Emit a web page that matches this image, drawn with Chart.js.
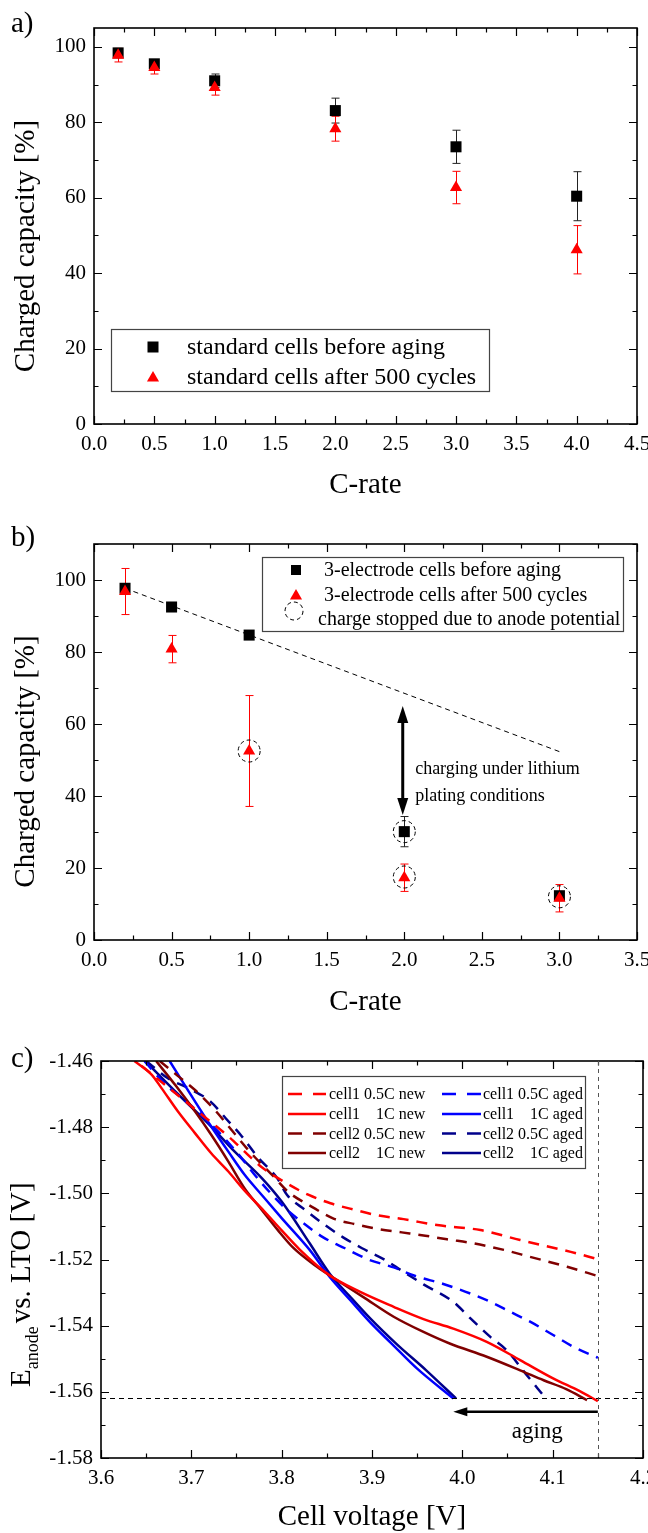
<!DOCTYPE html>
<html>
<head>
<meta charset="utf-8">
<title>Charged capacity and anode potential</title>
<script src="https://cdn.jsdelivr.net/npm/chart.js@4.4.1/dist/chart.umd.min.js"></script>
<style>
  body { margin: 0; background: #fff; }
  canvas { position: absolute; left: 0; }
</style>
</head>
<body>
<canvas id="chartA" width="648" height="510" style="top:0"></canvas>
<canvas id="chartB" width="648" height="510" style="top:510px"></canvas>
<canvas id="chartC" width="648" height="513" style="top:1020px"></canvas>
<script>
const SERIF = '"Liberation Serif", "Times New Roman", serif';

// a) standard cells
const rateA = [0.2, 0.5, 1.0, 2.0, 3.0, 4.0];
const beforeA = [98.4, 95.5, 91.0, 83.1, 73.5, 60.4];
const beforeErrA = [0.8, 0.9, 1.8, 3.3, 4.4, 6.5];
const afterA = [97.8, 94.5, 89.2, 78.3, 62.7, 46.2];
const afterErrA = [1.8, 1.7, 2.0, 3.3, 4.3, 6.4];

// b) 3-electrode cells
const rateB = [0.2, 0.5, 1.0, 2.0, 3.0];
const beforeB = [97.7, 92.5, 84.7, 30.1, 12.3];
const beforeErrB = [0, 0, 0, 4.2, 0];
const afterB = [96.8, 80.8, 52.5, 17.3, 11.6];
const afterErrB = [6.4, 3.8, 15.4, 3.8, 3.8];
const trendX = [0.2, 3.02];
const trendY = [97.7, 52.0];
const stopX = [1.0, 2.0, 2.0, 3.0];
const stopY = [52.5, 30.1, 17.5, 12.0];
const platingX = 1.99;
const platingY = [65.0, 34.7];
const noteX = 2.07;
const noteY = [47.3, 39.9];

// c) anode potential vs cell voltage
const c1HalfNewV = [3.645, 3.670, 3.698, 3.721, 3.741, 3.759, 3.778, 3.805, 3.830, 3.854, 3.881, 3.907, 3.935, 3.972, 4.020, 4.064, 4.120, 4.150];
const c1HalfNewE = [-1.4615, -1.4670, -1.4732, -1.4783, -1.4828, -1.4874, -1.4921, -1.4969, -1.5005, -1.5030, -1.5050, -1.5067, -1.5078, -1.5096, -1.5111, -1.5141, -1.5177, -1.5199];
const c1FullNewV = [3.637, 3.656, 3.667, 3.685, 3.704, 3.722, 3.741, 3.759, 3.780, 3.800, 3.820, 3.853, 3.887, 3.924, 3.957, 3.990, 4.027, 4.064, 4.101, 4.130, 4.150];
const c1FullNewE = [-1.4600, -1.4641, -1.4682, -1.4752, -1.4818, -1.4879, -1.4934, -1.4992, -1.5052, -1.5112, -1.5170, -1.5248, -1.5298, -1.5343, -1.5380, -1.5409, -1.5449, -1.5504, -1.5560, -1.5598, -1.5628];
const c2HalfNewV = [3.665, 3.685, 3.705, 3.725, 3.745, 3.765, 3.791, 3.807, 3.833, 3.858, 3.881, 3.907, 3.933, 3.959, 3.983, 4.012, 4.046, 4.075, 4.116, 4.150];
const c2HalfNewE = [-1.4600, -1.4645, -1.4690, -1.4745, -1.4810, -1.4875, -1.4949, -1.4995, -1.5040, -1.5077, -1.5093, -1.5108, -1.5118, -1.5128, -1.5139, -1.5151, -1.5171, -1.5192, -1.5222, -1.5250];
const c2FullNewV = [3.661, 3.682, 3.704, 3.722, 3.741, 3.759, 3.778, 3.796, 3.813, 3.839, 3.861, 3.890, 3.924, 3.957, 3.986, 4.027, 4.064, 4.090, 4.115, 4.138];
const c2FullNewE = [-1.4600, -1.4672, -1.4752, -1.4823, -1.4904, -1.4985, -1.5050, -1.5112, -1.5165, -1.5222, -1.5262, -1.5313, -1.5373, -1.5419, -1.5454, -1.5494, -1.5535, -1.5565, -1.5592, -1.5625];
const c1HalfAgedV = [3.648, 3.671, 3.700, 3.725, 3.750, 3.775, 3.802, 3.822, 3.846, 3.870, 3.896, 3.924, 3.948, 3.979, 4.009, 4.031, 4.053, 4.075, 4.101, 4.123, 4.150];
const c1HalfAgedE = [-1.4600, -1.4670, -1.4735, -1.4800, -1.4875, -1.4960, -1.5040, -1.5086, -1.5133, -1.5166, -1.5200, -1.5224, -1.5250, -1.5274, -1.5303, -1.5328, -1.5358, -1.5388, -1.5429, -1.5464, -1.5497];
const c1FullAgedV = [3.676, 3.689, 3.704, 3.722, 3.741, 3.759, 3.778, 3.800, 3.831, 3.853, 3.876, 3.898, 3.922, 3.950, 3.990];
const c1FullAgedE = [-1.4600, -1.4657, -1.4722, -1.4798, -1.4874, -1.4944, -1.5005, -1.5075, -1.5171, -1.5252, -1.5323, -1.5390, -1.5455, -1.5530, -1.5620];
const c2HalfAgedV = [3.650, 3.674, 3.698, 3.721, 3.738, 3.756, 3.774, 3.795, 3.806, 3.826, 3.848, 3.868, 3.889, 3.915, 3.933, 3.957, 3.990, 4.009, 4.031, 4.049, 4.070, 4.090];
const c2HalfAgedE = [-1.4600, -1.4652, -1.4684, -1.4722, -1.4773, -1.4828, -1.4892, -1.4954, -1.5005, -1.5050, -1.5096, -1.5133, -1.5166, -1.5202, -1.5234, -1.5275, -1.5328, -1.5378, -1.5434, -1.5474, -1.5545, -1.5612];
const c2FullAgedV = [3.649, 3.686, 3.722, 3.748, 3.778, 3.800, 3.831, 3.853, 3.876, 3.898, 3.927, 3.960, 3.993];
const c2FullAgedE = [-1.4600, -1.4702, -1.4798, -1.4874, -1.4954, -1.5025, -1.5151, -1.5242, -1.5313, -1.5378, -1.5455, -1.5535, -1.5620];
const limitE = -1.562;
const cutoffV = 4.15;
const agingV = [4.15, 3.99];
const agingE = -1.566;
const agingLabel = [4.083, -1.572];

const RED = '#ff0000', DARKRED = '#800000', BLUE = '#0000ff', NAVY = '#00008b';

Chart.defaults.font.family = SERIF;
Chart.defaults.color = '#000';

const pts = (xs, ys) => xs.map((x, i) => ({ x, y: ys[i] }));

function text(ctx, str, x, y, size, align = 'left', baseline = 'alphabetic') {
    ctx.font = `${size}px ${SERIF}`;
    ctx.textAlign = align;
    ctx.textBaseline = baseline;
    ctx.fillStyle = '#000';
    ctx.fillText(str, x, y);
}

function vtext(ctx, str, x, y, size, align = 'center') {
    ctx.save();
    ctx.translate(x, y);
    ctx.rotate(-Math.PI / 2);
    text(ctx, str, 0, 0, size, align);
    ctx.restore();
}

function square(ctx, x, y, side, color) {
    ctx.fillStyle = color;
    ctx.fillRect(x - side / 2, y - side / 2, side, side);
}

function triangle(ctx, x, y, r, color) {
    ctx.fillStyle = color;
    ctx.beginPath();
    ctx.moveTo(x, y - r);
    ctx.lineTo(x + r * 0.866, y + r / 2);
    ctx.lineTo(x - r * 0.866, y + r / 2);
    ctx.closePath();
    ctx.fill();
}

function dashedCircle(ctx, x, y, r) {
    ctx.save();
    ctx.strokeStyle = '#000';
    ctx.lineWidth = 1;
    ctx.setLineDash([4, 3]);
    ctx.beginPath();
    ctx.arc(x, y, r, 0, Math.PI * 2);
    ctx.stroke();
    ctx.restore();
}

function arrowHead(ctx, x, y, dx, dy, len, half) {
    // tip at (x, y), pointing along (dx, dy)
    const bx = x - dx * len, by = y - dy * len;
    ctx.beginPath();
    ctx.moveTo(x, y);
    ctx.lineTo(bx - dy * half, by + dx * half);
    ctx.lineTo(bx + dy * half, by - dx * half);
    ctx.closePath();
    ctx.fill();
}

// frame with inward ticks on all four sides
function frame(xStep, yStep) {
    return {
        id: 'frame',
        afterDraw(chart) {
            const { ctx, chartArea: a, scales } = chart;
            ctx.save();
            ctx.strokeStyle = '#000';
            ctx.lineWidth = 1.2;
            const marks = (scale, step, horizontal) => {
                const half = step / 2;
                const start = Math.ceil(scale.min / half - 1e-6);
                const end = Math.floor(scale.max / half + 1e-6);
                for (let i = start; i <= end; i++) {
                    const len = i % 2 === 0 ? 8 : 4.5;
                    const p = Math.round(scale.getPixelForValue(i * half)) + 0.5;
                    ctx.beginPath();
                    if (horizontal) {
                        ctx.moveTo(p, a.bottom); ctx.lineTo(p, a.bottom - len);
                        ctx.moveTo(p, a.top); ctx.lineTo(p, a.top + len);
                    } else {
                        ctx.moveTo(a.left, p); ctx.lineTo(a.left + len, p);
                        ctx.moveTo(a.right, p); ctx.lineTo(a.right - len, p);
                    }
                    ctx.stroke();
                }
            };
            marks(scales.x, xStep, true);
            marks(scales.y, yStep, false);
            ctx.lineWidth = 1.6;
            ctx.strokeRect(a.left, a.top, a.right - a.left, a.bottom - a.top);
            ctx.restore();
        }
    };
}

function errorBars(sets) {
    return {
        id: 'errorBars',
        beforeDatasetsDraw(chart) {
            const { ctx, scales: { x, y } } = chart;
            ctx.save();
            ctx.lineWidth = 1;
            sets.forEach(s => {
                ctx.strokeStyle = s.color;
                s.x.forEach((xv, i) => {
                    if (!s.err[i]) return;
                    const px = Math.round(x.getPixelForValue(xv)) + 0.5;
                    const top = y.getPixelForValue(s.y[i] + s.err[i]);
                    const bot = y.getPixelForValue(s.y[i] - s.err[i]);
                    ctx.beginPath();
                    ctx.moveTo(px, top); ctx.lineTo(px, bot);
                    ctx.moveTo(px - 4, top); ctx.lineTo(px + 4, top);
                    ctx.moveTo(px - 4, bot); ctx.lineTo(px + 4, bot);
                    ctx.stroke();
                });
            });
            ctx.restore();
        }
    };
}

function axis(min, max, step, digits, fit) {
    return {
        type: 'linear',
        min, max,
        grid: { display: false, drawTicks: false },
        border: { display: false },
        ticks: {
            stepSize: step,
            includeBounds: false,
            autoSkip: false,
            maxRotation: 0,
            padding: 8,
            color: '#000',
            font: { family: SERIF, size: 21 },
            callback: v => Number(v).toFixed(digits)
        },
        afterFit: fit
    };
}

const fitX = h => s => { s.height = h; s.paddingLeft = 0; s.paddingRight = 0; };
const fitY = w => s => { s.width = w; s.paddingTop = 0; s.paddingBottom = 0; };

function baseOptions(top, right) {
    return {
        responsive: false,
        animation: false,
        events: [],
        layout: { padding: { top, right, left: 0, bottom: 0 } },
        plugins: { legend: { display: false }, tooltip: { enabled: false } }
    };
}

// ---------- a) ----------
const decorA = {
    id: 'decorA',
    afterDraw(chart) {
        const { ctx } = chart;
        ctx.save();
        text(ctx, 'a)', 11, 32, 29);
        text(ctx, 'C-rate', 365.5, 493, 29, 'center');
        vtext(ctx, 'Charged capacity [%]', 34, 246, 29);
        ctx.strokeStyle = '#444';
        ctx.lineWidth = 1.2;
        ctx.strokeRect(111.5, 329.5, 378, 62);
        square(ctx, 153, 347, 11, '#000');
        triangle(ctx, 153, 378, 7, RED);
        text(ctx, 'standard cells before aging', 187, 348, 24, 'left', 'middle');
        text(ctx, 'standard cells after 500 cycles', 187, 378, 24, 'left', 'middle');
        ctx.restore();
    }
};

const optsA = baseOptions(28, 11);
optsA.scales = {
    x: axis(0, 4.5, 0.5, 1, fitX(86)),
    y: axis(0, 105, 20, 0, fitY(94))
};

new Chart(document.getElementById('chartA'), {
    type: 'scatter',
    data: {
        datasets: [
            { label: 'standard cells after 500 cycles', data: pts(rateA, afterA), pointStyle: 'triangle', pointRadius: 7, backgroundColor: RED, borderWidth: 0 },
            { label: 'standard cells before aging', data: pts(rateA, beforeA), pointStyle: 'rect', pointRadius: 7.8, backgroundColor: '#000', borderWidth: 0 }
        ]
    },
    options: optsA,
    plugins: [errorBars([
        { x: rateA, y: beforeA, err: beforeErrA, color: '#222' },
        { x: rateA, y: afterA, err: afterErrA, color: RED }
    ]), frame(0.5, 20), decorA]
});

// ---------- b) ----------
const decorB = {
    id: 'decorB',
    afterDraw(chart) {
        const { ctx, scales: { x, y } } = chart;
        ctx.save();
        text(ctx, 'b)', 11, 36, 29);
        text(ctx, 'C-rate', 365.5, 500, 29, 'center');
        vtext(ctx, 'Charged capacity [%]', 34, 251.5, 29);

        stopX.forEach((v, i) => dashedCircle(ctx, x.getPixelForValue(v), y.getPixelForValue(stopY[i]), 11));

        // double arrow: charging under lithium plating conditions
        const ax = x.getPixelForValue(platingX);
        const y1 = y.getPixelForValue(platingY[0]);
        const y2 = y.getPixelForValue(platingY[1]);
        ctx.strokeStyle = '#000';
        ctx.fillStyle = '#000';
        ctx.lineWidth = 3;
        ctx.beginPath();
        ctx.moveTo(ax, y1 + 14); ctx.lineTo(ax, y2 - 14);
        ctx.stroke();
        arrowHead(ctx, ax, y1, 0, -1, 17, 5.5);
        arrowHead(ctx, ax, y2, 0, 1, 17, 5.5);
        text(ctx, 'charging under lithium', x.getPixelForValue(noteX), y.getPixelForValue(noteY[0]), 18, 'left', 'middle');
        text(ctx, 'plating conditions', x.getPixelForValue(noteX), y.getPixelForValue(noteY[1]), 18, 'left', 'middle');

        // legend
        ctx.strokeStyle = '#444';
        ctx.lineWidth = 1.2;
        ctx.strokeRect(262.5, 47.5, 361, 74);
        square(ctx, 296, 60, 10, '#000');
        triangle(ctx, 296, 86, 7, RED);
        dashedCircle(ctx, 294, 101, 9);
        text(ctx, '3-electrode cells before aging', 324, 61, 20, 'left', 'middle');
        text(ctx, '3-electrode cells after 500 cycles', 324, 86, 20, 'left', 'middle');
        text(ctx, 'charge stopped due to anode potential', 318, 110, 20, 'left', 'middle');
        ctx.restore();
    }
};

const optsB = baseOptions(34, 11);
optsB.scales = {
    x: axis(0, 3.5, 0.5, 1, fitX(80)),
    y: axis(0, 110, 20, 0, fitY(94))
};

new Chart(document.getElementById('chartB'), {
    type: 'scatter',
    data: {
        datasets: [
            { label: '3-electrode cells after 500 cycles', data: pts(rateB, afterB), pointStyle: 'triangle', pointRadius: 7, backgroundColor: RED, borderWidth: 0 },
            { label: '3-electrode cells before aging', data: pts(rateB, beforeB), pointStyle: 'rect', pointRadius: 7.8, backgroundColor: '#000', borderWidth: 0 },
            { label: 'trend', data: pts(trendX, trendY), showLine: true, borderColor: '#000', borderWidth: 1, borderDash: [5, 4], pointRadius: 0 }
        ]
    },
    options: optsB,
    plugins: [errorBars([
        { x: rateB, y: beforeB, err: beforeErrB, color: '#222' },
        { x: rateB, y: afterB, err: afterErrB, color: RED }
    ]), frame(0.5, 20), decorB]
});

// ---------- c) ----------
const curves = [
    { label: 'cell1 0.5C new', v: c1HalfNewV, e: c1HalfNewE, color: RED, dash: true },
    { label: 'cell1    1C new', v: c1FullNewV, e: c1FullNewE, color: RED, dash: false },
    { label: 'cell2 0.5C new', v: c2HalfNewV, e: c2HalfNewE, color: DARKRED, dash: true },
    { label: 'cell2    1C new', v: c2FullNewV, e: c2FullNewE, color: DARKRED, dash: false },
    { label: 'cell1 0.5C aged', v: c1HalfAgedV, e: c1HalfAgedE, color: BLUE, dash: true },
    { label: 'cell1    1C aged', v: c1FullAgedV, e: c1FullAgedE, color: BLUE, dash: false },
    { label: 'cell2 0.5C aged', v: c2HalfAgedV, e: c2HalfAgedE, color: NAVY, dash: true },
    { label: 'cell2    1C aged', v: c2FullAgedV, e: c2FullAgedE, color: NAVY, dash: false }
];

const decorC = {
    id: 'decorC',
    afterDraw(chart) {
        const { ctx, chartArea: a, scales: { x, y } } = chart;
        ctx.save();
        text(ctx, 'c)', 11, 47, 29);
        text(ctx, 'Cell voltage [V]', 372, 505, 29, 'center');

        // E_anode vs. LTO [V]
        ctx.save();
        ctx.translate(30, 367);
        ctx.rotate(-Math.PI / 2);
        text(ctx, 'E', 0, 0, 29);
        ctx.font = `29px ${SERIF}`;
        const wE = ctx.measureText('E').width;
        text(ctx, 'anode', wE, 8, 18);
        ctx.font = `18px ${SERIF}`;
        const wSub = ctx.measureText('anode').width;
        text(ctx, 'vs. LTO [V]', wE + wSub + 3, 0, 29);
        ctx.restore();

        // limit lines
        ctx.strokeStyle = '#000';
        ctx.lineWidth = 1;
        ctx.setLineDash([5, 4]);
        const ly = Math.round(y.getPixelForValue(limitE)) + 0.5;
        ctx.beginPath();
        ctx.moveTo(a.left, ly); ctx.lineTo(a.right, ly);
        ctx.stroke();
        ctx.strokeStyle = '#555';
        ctx.setLineDash([4, 4]);
        const cx = Math.round(x.getPixelForValue(cutoffV)) + 0.5;
        ctx.beginPath();
        ctx.moveTo(cx, a.top); ctx.lineTo(cx, a.bottom);
        ctx.stroke();
        ctx.setLineDash([]);

        // aging arrow
        const ay = y.getPixelForValue(agingE);
        const ax1 = x.getPixelForValue(agingV[0]);
        const ax2 = x.getPixelForValue(agingV[1]);
        ctx.strokeStyle = '#000';
        ctx.fillStyle = '#000';
        ctx.lineWidth = 2.5;
        ctx.beginPath();
        ctx.moveTo(ax1, ay); ctx.lineTo(ax2 + 12, ay);
        ctx.stroke();
        arrowHead(ctx, ax2, ay, -1, 0, 14, 4.5);
        text(ctx, 'aging', x.getPixelForValue(agingLabel[0]), y.getPixelForValue(agingLabel[1]), 23, 'center', 'middle');

        // legend
        ctx.strokeStyle = '#444';
        ctx.lineWidth = 1.2;
        ctx.strokeRect(282.5, 56.5, 303, 92);
        const rows = [74, 94, 113.5, 133];
        curves.forEach((c, i) => {
            const col = i < 4 ? 0 : 1;
            const ry = rows[i % 4];
            const x0 = col ? 442 : 288;
            const x1 = col ? 481 : 326;
            ctx.strokeStyle = c.color;
            ctx.lineWidth = 2.5;
            ctx.setLineDash(c.dash ? [14, 11] : []);
            ctx.beginPath();
            ctx.moveTo(x0, ry); ctx.lineTo(x1, ry);
            ctx.stroke();
            ctx.setLineDash([]);
            text(ctx, c.label, col ? 483 : 329, ry + 1, 16, 'left', 'middle');
        });
        ctx.restore();
    }
};

const optsC = baseOptions(41, 5);
optsC.scales = {
    x: axis(3.6, 4.2, 0.1, 1, fitX(75)),
    y: axis(-1.58, -1.46, 0.02, 2, fitY(101))
};

new Chart(document.getElementById('chartC'), {
    type: 'scatter',
    data: {
        datasets: curves.map(c => ({
            label: c.label,
            data: pts(c.v, c.e),
            showLine: true,
            borderColor: c.color,
            borderWidth: 2.5,
            borderDash: c.dash ? [11, 8] : [],
            pointRadius: 0,
            cubicInterpolationMode: 'monotone'
        }))
    },
    options: optsC,
    plugins: [frame(0.1, 0.02), decorC]
});
</script>
</body>
</html>
